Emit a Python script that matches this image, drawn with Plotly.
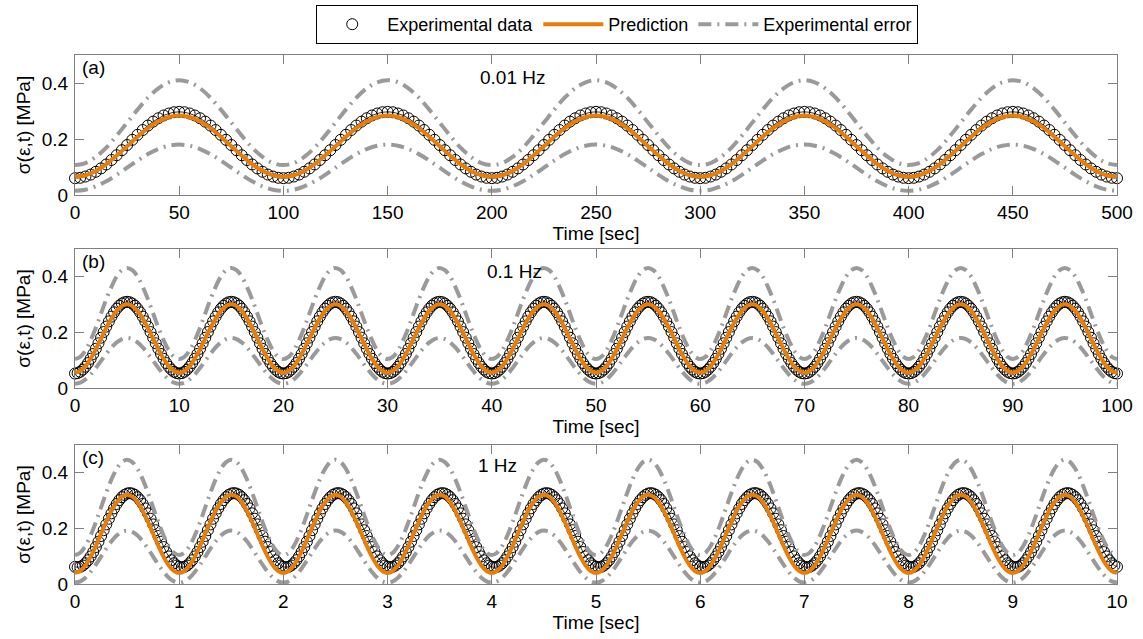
import plotly.graph_objects as go

# ---------------- data (one period, repeated) ----------------
# Panel (a): 0.01 Hz, period 100 s
PERIOD_A = 100.0
N_PER_A = 5
DATA_A = [0.060, 0.0615, 0.066, 0.073, 0.083, 0.095, 0.109, 0.125, 0.142, 0.160,
          0.1785, 0.197, 0.215, 0.232, 0.248, 0.262, 0.274, 0.284, 0.291, 0.2955,
          0.297, 0.2955, 0.291, 0.284, 0.274, 0.262, 0.248, 0.232, 0.215, 0.197,
          0.1785, 0.160, 0.142, 0.125, 0.109, 0.095, 0.083, 0.073, 0.066, 0.0615]
PRED_A = [0.065, 0.0704, 0.086, 0.110, 0.141, 0.1745, 0.208, 0.239, 0.263, 0.2786,
          0.284, 0.2786, 0.263, 0.239, 0.208, 0.1745, 0.141, 0.110, 0.086, 0.0704]
UPPER_A = [0.107, 0.114, 0.136, 0.169, 0.212, 0.2585, 0.305, 0.3475, 0.381, 0.4026,
           0.410, 0.4026, 0.381, 0.3475, 0.305, 0.2585, 0.212, 0.169, 0.136, 0.114]
LOWER_A = [0.015, 0.019, 0.031, 0.049, 0.072, 0.0975, 0.123, 0.146, 0.1642, 0.176,
           0.180, 0.176, 0.1642, 0.146, 0.123, 0.0975, 0.072, 0.049, 0.031, 0.019]

# Panel (b): 0.1 Hz, period 10 s
PERIOD_B = 10.0
N_PER_B = 10
DATA_B = [0.052, 0.0536, 0.0583, 0.0661, 0.0766, 0.0898, 0.1052, 0.1224, 0.1411, 0.1608,
          0.181, 0.2012, 0.2209, 0.2396, 0.2568, 0.2722, 0.2854, 0.2959, 0.3037, 0.3084,
          0.310, 0.3084, 0.3037, 0.2959, 0.2854, 0.2722, 0.2568, 0.2396, 0.2209, 0.2012,
          0.181, 0.1608, 0.1411, 0.1224, 0.1052, 0.0898, 0.0766, 0.0661, 0.0583, 0.0536]
PRED_B = [0.055, 0.061, 0.0785, 0.1057, 0.140, 0.178, 0.216, 0.2503, 0.2775, 0.295,
          0.301, 0.295, 0.2775, 0.2503, 0.216, 0.178, 0.140, 0.1057, 0.0785, 0.061]
UPPER_B = [0.104, 0.112, 0.135, 0.172, 0.217, 0.268, 0.319, 0.364, 0.401, 0.424,
           0.432, 0.424, 0.401, 0.364, 0.319, 0.268, 0.217, 0.172, 0.135, 0.112]
LOWER_B = [0.015, 0.019, 0.031, 0.049, 0.072, 0.0975, 0.123, 0.146, 0.164, 0.176,
           0.180, 0.176, 0.164, 0.146, 0.123, 0.0975, 0.072, 0.049, 0.031, 0.019]

# Panel (c): 1 Hz, period 1 s
PERIOD_C = 1.0
N_PER_C = 10
DATA_C = [0.0617, 0.060, 0.0617, 0.0665, 0.0746, 0.0855, 0.0991, 0.115, 0.1329, 0.1522,
          0.1726, 0.1935, 0.2144, 0.2348, 0.2541, 0.272, 0.2879, 0.3015, 0.3124, 0.3205,
          0.3253, 0.327, 0.3253, 0.3205, 0.3124, 0.3015, 0.2879, 0.272, 0.2541, 0.2348,
          0.2144, 0.1935, 0.1726, 0.1522, 0.1329, 0.115, 0.0991, 0.0855, 0.0746, 0.0665]
PRED_C = [0.040, 0.0469, 0.0668, 0.0979, 0.1371, 0.1805, 0.2239, 0.2631, 0.2942, 0.3141,
          0.321, 0.3141, 0.2942, 0.2631, 0.2239, 0.1805, 0.1371, 0.0979, 0.0668, 0.0469]
UPPER_C = [0.104, 0.1124, 0.1368, 0.1747, 0.2225, 0.2755, 0.3285, 0.3763, 0.4142, 0.4386,
           0.447, 0.4386, 0.4142, 0.3763, 0.3285, 0.2755, 0.2225, 0.1747, 0.1368, 0.1124]
LOWER_C = [0.005, 0.0096, 0.0229, 0.0435, 0.0696, 0.0985, 0.1274, 0.1535, 0.1741, 0.1874,
           0.192, 0.1874, 0.1741, 0.1535, 0.1274, 0.0985, 0.0696, 0.0435, 0.0229, 0.0096]

PANEL_LABELS = ["(a)", "(b)", "(c)"]
FREQ_LABELS = ["0.01 Hz", "0.1 Hz", "1 Hz"]
X_RANGES = [[0, 500], [0, 100], [0, 10]]
X_DTICKS = [50, 10, 1]
Y_TICKS = [0, 0.2, 0.4]
Y_TICKTEXT = ["0", "0.2", "0.4"]

# ---------------- styling ----------------
FONT = "Liberation Sans, Arial, sans-serif"
ORANGE = "#E87E0A"
GRAY = "#9A9A9A"
AXCOL = "#808080"
FS = 19
LFS = 18
W, H = 1143, 639


def repeat_period(period_vals, n_periods, period):
    ys = list(period_vals) * n_periods + [period_vals[0]]
    step = period / len(period_vals)
    xs = [i * step for i in range(len(ys))]
    return xs, ys


panels = [
    (DATA_A, PRED_A, UPPER_A, LOWER_A, N_PER_A, PERIOD_A),
    (DATA_B, PRED_B, UPPER_B, LOWER_B, N_PER_B, PERIOD_B),
    (DATA_C, PRED_C, UPPER_C, LOWER_C, N_PER_C, PERIOD_C),
]

fig = go.Figure()
suffixes = ["", "2", "3"]
for i, (d, p, u, lo, n, per) in enumerate(panels):
    xa = "x" + suffixes[i]
    ya = "y" + suffixes[i]
    first = i == 0
    xd, yd = repeat_period(d, n, per)
    xp, yp = repeat_period(p, n, per)
    xu, yu = repeat_period(u, n, per)
    xl, yl = repeat_period(lo, n, per)
    fig.add_trace(go.Scatter(x=xd, y=yd, mode="lines", xaxis=xa, yaxis=ya,
                             line=dict(color="black", width=0.8),
                             showlegend=False, hoverinfo="skip"))
    fig.add_trace(go.Scatter(x=xd, y=yd, mode="markers", xaxis=xa, yaxis=ya,
                             name="Experimental data", legendgroup="data",
                             showlegend=first, cliponaxis=False,
                             marker=dict(symbol="circle-open", size=11,
                                         color="black", line=dict(width=1, color="black"))))
    fig.add_trace(go.Scatter(x=xp, y=yp, mode="lines", xaxis=xa, yaxis=ya,
                             name="Prediction", legendgroup="pred", showlegend=first,
                             line=dict(color=ORANGE, width=4, shape="spline")))
    fig.add_trace(go.Scatter(x=xu, y=yu, mode="lines", xaxis=xa, yaxis=ya,
                             name="Experimental error", legendgroup="err", showlegend=first,
                             line=dict(color=GRAY, width=4, dash="13px,6px,2px,6px",
                                       shape="spline")))
    fig.add_trace(go.Scatter(x=xl, y=yl, mode="lines", xaxis=xa, yaxis=ya,
                             name="Experimental error", legendgroup="err", showlegend=False,
                             line=dict(color=GRAY, width=4, dash="13px,6px,2px,6px",
                                       shape="spline")))

# pixel layout of the three panels (top, bottom) and shared left/right edges
PANEL_PX = [(55, 195), (249, 388), (445, 584)]
X_DOMAIN = [75 / W, 1117 / W]
domains = [[1 - b / H, 1 - t / H] for (t, b) in PANEL_PX]

common_axis = dict(showline=True, linecolor=AXCOL, linewidth=1, mirror="ticks",
                   ticks="inside", ticklen=9, tickcolor=AXCOL, tickwidth=1,
                   showgrid=False, zeroline=False,
                   tickfont=dict(family=FONT, size=FS, color="black"))

layout = dict(
    width=W, height=H,
    margin=dict(l=0, r=0, t=0, b=0, autoexpand=False),
    paper_bgcolor="white", plot_bgcolor="white",
    font=dict(family=FONT, size=FS, color="black"),
    legend=dict(orientation="h", x=0.540, xanchor="center", y=1 - 5 / H, yanchor="top",
                bordercolor="black", borderwidth=1, bgcolor="white",
                font=dict(family=FONT, size=LFS, color="black"),
                itemwidth=60, traceorder="normal"),
    annotations=[],
)

for i in range(3):
    xk = "xaxis" + suffixes[i]
    yk = "yaxis" + suffixes[i]
    layout[xk] = dict(common_axis, domain=X_DOMAIN, range=X_RANGES[i], dtick=X_DTICKS[i],
                      tick0=0, anchor="y" + suffixes[i],
                      title=dict(text="Time [sec]", standoff=4,
                                 font=dict(family=FONT, size=FS, color="black")),
                      ticklabelstandoff=0)
    layout[yk] = dict(common_axis, domain=domains[i], range=[0, 0.5],
                      tickvals=Y_TICKS, ticktext=Y_TICKTEXT, anchor="x" + suffixes[i],
                      title=dict(text="σ(ε,t) [MPa]", standoff=6,
                                 font=dict(family=FONT, size=FS, color="black")),
                      ticklabelstandoff=2)
    layout["annotations"].append(dict(text=PANEL_LABELS[i], xref="x" + suffixes[i] + " domain",
                                      yref="y" + suffixes[i] + " domain", x=0.005, y=0.91,
                                      xanchor="left", yanchor="middle", showarrow=False,
                                      font=dict(family=FONT, size=FS, color="black")))

freq_pos = [(0.42, 0.838), (0.422, 0.837), (0.405, 0.856)]
for i in range(3):
    layout["annotations"].append(dict(text=FREQ_LABELS[i], xref="x" + suffixes[i] + " domain",
                                      yref="y" + suffixes[i] + " domain",
                                      x=freq_pos[i][0], y=freq_pos[i][1],
                                      xanchor="center", yanchor="middle", showarrow=False,
                                      font=dict(family=FONT, size=FS, color="black")))

fig.update_layout(**layout)
fig.write_html("out.html")
